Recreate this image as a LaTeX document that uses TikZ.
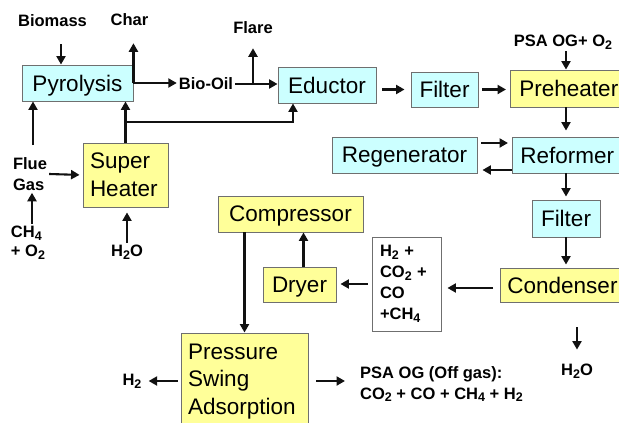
\documentclass[tikz,border=0pt]{standalone}
\usepackage{fontspec}
\setmainfont{Liberation Sans}
\usetikzlibrary{arrows.meta,positioning,calc}
\definecolor{ink}     {HTML}{111111}
\definecolor{edgegray}{HTML}{6F6F6F}
\definecolor{unitcyan}{HTML}{CCFFFF}
\definecolor{unityel} {HTML}{FFFF99}
\newcommand{\sub}[1]{\raisebox{-0.33ex}{\fontsize{12.5}{12.5}\selectfont #1}}
\tikzset{
  unit/.style   ={draw=edgegray, line width=0.9pt, inner sep=0pt,
                  font=\fontsize{22.5}{27.5}\selectfont, align=center},
  cbox/.style   ={unit, fill=unitcyan, text depth=0pt},
  ybox/.style   ={unit, fill=unityel, text depth=0pt},
  ytall/.style  ={unit, fill=unityel, align=left},
  gasbox/.style ={unit, fill=white, align=left,
                  font=\fontsize{16.5}{21}\selectfont\bfseries},
  lbl/.style    ={font=\fontsize{16.5}{21}\selectfont\bfseries,
                  inner sep=2pt, align=center},
  arr/.style    ={-{Triangle[length=8.5pt,width=9pt]}, line width=2.1pt,
                  draw=ink},
}

\begin{document}
\begin{tikzpicture}[x=1pt,y=-1pt]
  \useasboundingbox (0,0) rectangle (619,423);
  \clip (0,0) rectangle (619,423);
  \fill[white] (0,0) rectangle (619,423);

  % units
  \node[cbox,minimum width=111pt,minimum height=36pt] (pyro) at (77.5,83) {Pyrolysis};
  \node[cbox,minimum width=98pt,minimum height=36pt] (educt) at (327,85) {Eductor};
  \node[cbox,minimum width=67pt,minimum height=35pt] (filtA) at (444.5,89.5) {Filter};
  \node[ybox,anchor=west,inner xsep=9pt,minimum height=37pt] (preh) at (510,88.5) {Preheater};
  \node[cbox,minimum width=145pt,minimum height=36pt] (regen) at (404.5,155) {Regenerator};
  \node[cbox,anchor=west,inner xsep=8pt,minimum height=36pt] (reform) at (512,155) {Reformer};
  \node[cbox,minimum width=68pt,minimum height=37pt] (filtB) at (566,218.5) {Filter};
  \node[ybox,anchor=west,inner xsep=7pt,minimum height=34pt] (cond) at (500,285) {Condenser};
  \node[ytall,text width=71pt,inner xsep=7pt,minimum height=64pt] (superh) at (125.5,175) {Super\\Heater};
  \node[ybox,minimum width=145pt,minimum height=36pt] (comp) at (290.5,214) {Compressor};
  \node[ybox,minimum width=73pt,minimum height=35pt] (dryer) at (299.5,284.5) {Dryer};
  \node[gasbox,text width=53pt,inner xsep=8pt,minimum height=94pt] (gas) at (406.5,284)
    {H\sub{2} +\\CO\sub{2} +\\CO\\+CH\sub{4}};
  \node[ytall,text width=113pt,inner xsep=7pt,minimum height=97pt] (psa) at (244.5,381.5)
    {Pressure\\Swing\\Adsorption};

  % streams
  \node[lbl] (biomass) at (52.5,21) {Biomass};
  \node[lbl] (char) at (129.5,20) {Char};
  \node[lbl] (flare) at (253,28) {Flare};
  \node[lbl] (biooil) at (206,84) {Bio-Oil};
  \node[lbl] (psain) at (563,42) {PSA OG+ O\sub{2}};
  \node[lbl,align=left] (flue) at (30,174) {Flue\\Gas};
  \node[lbl,align=left,font=\fontsize{16.5}{19}\selectfont\bfseries] (ch4) at (28,243) {CH\sub{4}\\+ O\sub{2}};
  \node[lbl] (h2oA) at (127,252) {H\sub{2}O};
  \node[lbl] (h2) at (132,381) {H\sub{2}};
  \node[lbl,align=left,anchor=west] (psaout) at (358,384) {PSA OG (Off gas):\\CO\sub{2} + CO + CH\sub{4} + H\sub{2}};
  \node[lbl] (h2oB) at (577,371) {H\sub{2}O};

  \coordinate (tee) at ($(superh.north)!0.5!(superh.north |- pyro.south)$);

  \draw[arr,shorten <=15pt] ([xshift=8.5pt]biomass.south) -- ([xshift=8.5pt]biomass.south |- pyro.north);
  \draw[arr,shorten >=15pt] (pyro.east) -- (pyro.east |- char.south);
  \draw[arr] (pyro.east) -- (pyro.east -| biooil.west);
  \draw[arr] (biooil.east) -- (biooil.east -| educt.west);
  \draw[arr,shorten >=12pt] (biooil.east -| flare.south) -- (flare.south);
  \draw[arr] (superh.north) -- (superh.north |- pyro.south);
  \draw[arr] (tee) -| ([xshift=-34pt]educt.south);
  \draw[arr,shorten <=10pt] ([xshift=3pt]flue.north) -- ([xshift=3pt]flue.north |- pyro.south);
  \draw[arr,shorten >=3pt] (flue.east) -- (superh.west);
  \draw[arr] ([xshift=4pt]ch4.north) -- ([xshift=4pt]ch4.north |- flue.south);
  \draw[arr,shorten >=5pt] (h2oA.north) -- (h2oA.north |- superh.south);
  \draw[arr,shorten <=6pt,shorten >=6pt] (educt.east |- filtA.west) -- (filtA.west);
  \draw[arr,shorten <=4pt,shorten >=4pt] (filtA.east) -- (filtA.east -| preh.west);
  \draw[arr] (psain.south -| filtB) -- (preh.north -| filtB);
  \draw[arr,shorten >=6pt] (preh.south -| filtB) -- (reform.north -| filtB);
  \draw[arr,shorten <=4pt,shorten >=4pt] ([yshift=12pt]regen.east) -- ([yshift=12pt]regen.east -| reform.west);
  \draw[arr,shorten >=5pt] ([yshift=-15pt]regen.east -| reform.west) -- ([yshift=-15pt]regen.east);
  \draw[arr,shorten >=3pt] (reform.south -| filtB) -- (filtB.north);
  \draw[arr,shorten >=3pt] (filtB.south) -- (filtB.south |- cond.north);
  \draw[arr,shorten <=7pt,shorten >=6pt] ([yshift=-3pt]cond.west) -- ([yshift=-3pt]cond.west -| gas.east);
  \draw[arr,shorten <=4pt,shorten >=4pt] (gas.west) -- (gas.west -| dryer.east);
  \draw[arr] ([xshift=4pt]dryer.north) -- ([xshift=4pt]dryer.north |- comp.south);
  \draw[arr] (psa.north |- comp.south) -- (psa.north);
  \draw[arr,shorten <=3pt,shorten >=5pt] (psa.west |- h2) -- (h2.east);
  \draw[arr,shorten <=8pt,shorten >=13pt] ([yshift=3pt]psa.east |- psaout.west) -- ([yshift=3pt]psaout.west);
  \draw[arr,shorten <=25pt,shorten >=12pt] (cond.south -| h2oB) -- (h2oB.north);
\end{tikzpicture}
\end{document}
